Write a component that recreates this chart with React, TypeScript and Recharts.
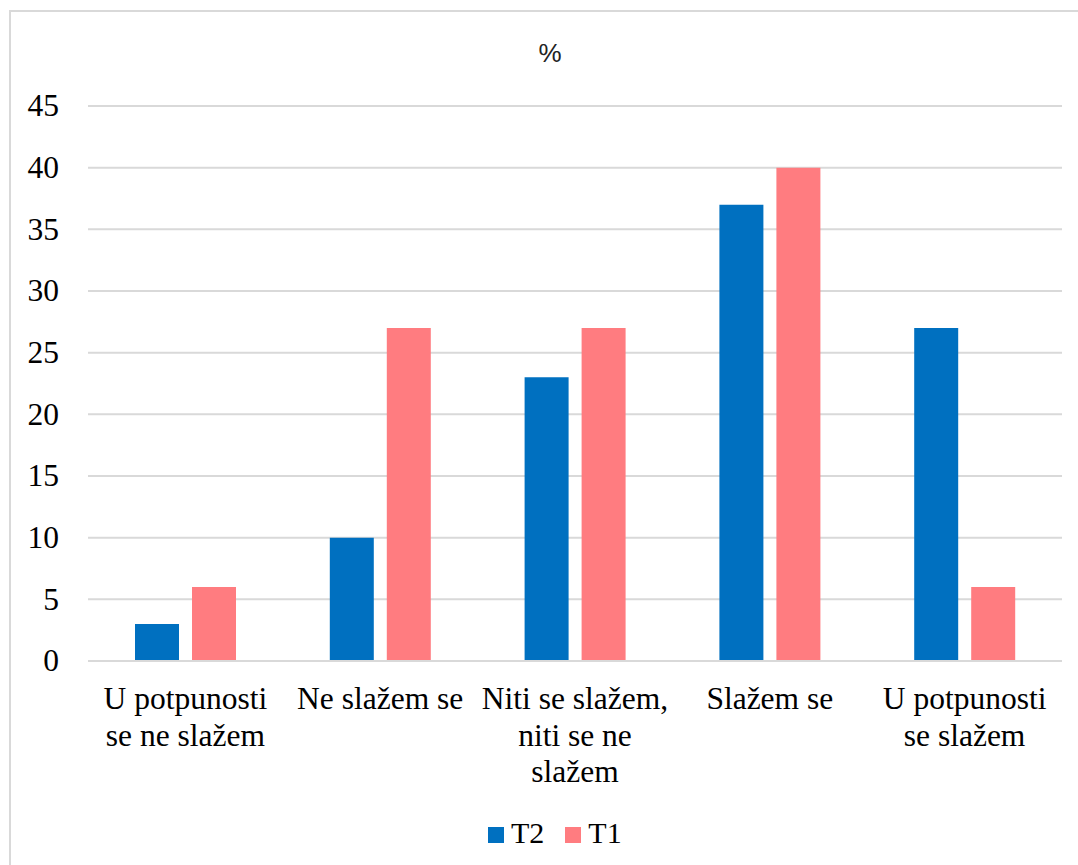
import React from "react";
import { BarChart, Bar, XAxis, YAxis, CartesianGrid, Legend } from "recharts";

// answer categories (line breaks as wrapped in the original chart)
const categories = [
  "U potpunosti\nse ne slažem",
  "Ne slažem se",
  "Niti se slažem,\nniti se ne\nslažem",
  "Slažem se",
  "U potpunosti\nse slažem",
];
const t2Values = [3, 10, 23, 37, 27];
const t1Values = [6, 27, 27, 40, 6];
const yTicks = [0, 5, 10, 15, 20, 25, 30, 35, 40, 45];
const seriesNames = ["T2", "T1"];

const BLUE = "#0070C0";
const PINK = "#FF7C80";
const GRID = "#d9d9d9";
const SERIF = "Times New Roman, Liberation Serif, serif";

const data = categories.map((name, i) => ({ name, T2: t2Values[i], T1: t1Values[i] }));

/* eslint-disable @typescript-eslint/no-explicit-any */
const XTick = ({ x, y, payload }: any) => {
  const lines = String(payload.value).split("\n");
  return (
    <text x={x} y={y + 48} textAnchor="middle" fill="#000" style={{ fontFamily: SERIF, fontSize: 31.5 }}>
      {lines.map((l, i) => (
        <tspan key={i} x={x} dy={i === 0 ? 0 : 36.5}>{l}</tspan>
      ))}
    </text>
  );
};

const YTick = ({ x, y, payload }: any) => (
  <text x={x} y={y} dy="0.33em" textAnchor="end" fill="#000" style={{ fontFamily: SERIF, fontSize: 31.5 }}>
    {payload.value}
  </text>
);

const LegendBox = ({ payload }: any) => {
  const items = seriesNames
    .map((n) => (payload || []).find((p: any) => p.value === n))
    .filter(Boolean);
  return (
    <div style={{ display: "flex", alignItems: "center", fontFamily: SERIF, fontSize: 30, lineHeight: "30px" }}>
      {items.map((p: any, i: number) => (
        <div key={i} style={{ display: "flex", alignItems: "center", marginRight: 21 }}>
          <span style={{ display: "inline-block", width: 16, height: 16, background: p.color, marginRight: 7, marginTop: 4 }} />
          <span>{p.value}</span>
        </div>
      ))}
    </div>
  );
};
/* eslint-enable @typescript-eslint/no-explicit-any */

export default function App() {
  return (
    <div style={{ position: "absolute", left: 0, top: 0, width: 1078, height: 865, overflow: "hidden", background: "#fff" }}>
      <div style={{
        position: "absolute", left: 9, top: 10, width: 1100, height: 900,
        border: `2px solid ${GRID}`, boxSizing: "border-box",
      }} />
      <div style={{
        position: "absolute", left: 0, width: 1100, top: 38, textAlign: "center",
        fontFamily: "Liberation Sans, Arial, sans-serif", fontSize: 26, lineHeight: "30px", color: "#222",
      }}>
        %
      </div>
      <BarChart
        width={1078}
        height={865}
        data={data}
        margin={{ top: 106, right: 16, bottom: 0, left: 0 }}
        barCategoryGap="24%"
        barGap={13}
        style={{ position: "absolute", left: 0, top: 0 }}
      >
        <CartesianGrid vertical={false} stroke={GRID} strokeWidth={2} />
        <XAxis
          dataKey="name"
          height={204}
          interval={0}
          tickLine={false}
          tickSize={0}
          tickMargin={0}
          axisLine={{ stroke: GRID, strokeWidth: 2 }}
          tick={<XTick />}
        />
        <YAxis
          width={88}
          domain={[0, 45]}
          ticks={yTicks}
          axisLine={false}
          tickLine={false}
          tickSize={0}
          tickMargin={29}
          tick={<YTick />}
        />
        <Legend
          verticalAlign="middle"
          layout="horizontal"
          content={<LegendBox />}
          wrapperStyle={{ top: 818, left: 488, width: 300, height: 34 }}
        />
        <Bar dataKey="T2" name="T2" fill={BLUE} barSize={44} isAnimationActive={false} />
        <Bar dataKey="T1" name="T1" fill={PINK} barSize={44} isAnimationActive={false} />
      </BarChart>
    </div>
  );
}
